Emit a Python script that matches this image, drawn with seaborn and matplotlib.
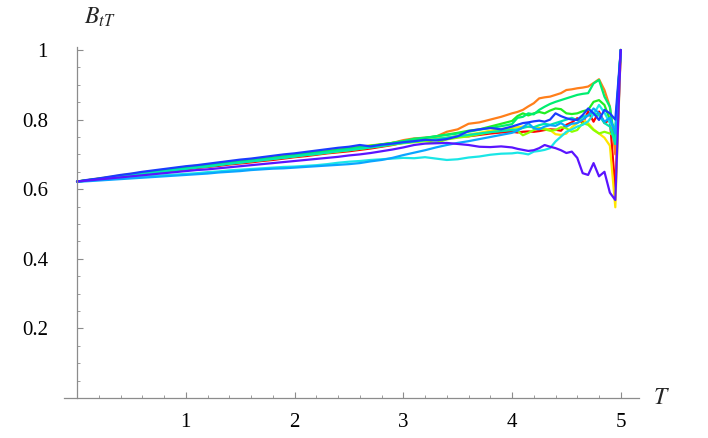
import numpy as np
import pandas as pd
import matplotlib
matplotlib.use("Agg")
import matplotlib.pyplot as plt
from matplotlib.ticker import MultipleLocator
import seaborn as sns

# ---- data -------------------------------------------------------------
T = [0.0, 0.1, 0.2, 0.3, 0.4, 0.5, 0.6, 0.7, 0.8, 0.9,
     1.0, 1.1, 1.2, 1.3, 1.4, 1.5, 1.6, 1.7, 1.8, 1.9,
     2.0, 2.1, 2.2, 2.3, 2.4, 2.5, 2.6, 2.7, 2.8, 2.9,
     3.0, 3.1, 3.2, 3.3, 3.4, 3.5, 3.6, 3.7, 3.8, 3.9,
     4.0, 4.05, 4.1, 4.15, 4.2, 4.25, 4.3, 4.35, 4.4, 4.45,
     4.5, 4.55, 4.6, 4.65, 4.7, 4.75, 4.8, 4.85, 4.9, 4.95, 5.0]

red = [0.622, 0.625, 0.628, 0.632, 0.636, 0.640, 0.643, 0.647, 0.651, 0.654,
       0.657, 0.661, 0.664, 0.667, 0.671, 0.674, 0.677, 0.681, 0.684, 0.688,
       0.692, 0.695, 0.699, 0.703, 0.706, 0.709, 0.713, 0.717, 0.722, 0.727,
       0.734, 0.737, 0.741, 0.745, 0.747, 0.752, 0.752, 0.756, 0.760, 0.763,
       0.765, 0.763, 0.765, 0.766, 0.765, 0.767, 0.770, 0.772, 0.771, 0.768,
       0.785, 0.792, 0.804, 0.790, 0.823, 0.794, 0.823, 0.790, 0.800, 0.600, 1.0]

orange = [0.622, 0.626, 0.630, 0.634, 0.638, 0.642, 0.646, 0.650, 0.654, 0.657,
          0.660, 0.664, 0.667, 0.671, 0.675, 0.678, 0.682, 0.685, 0.689, 0.692,
          0.696, 0.700, 0.703, 0.706, 0.710, 0.714, 0.718, 0.722, 0.727, 0.733,
          0.741, 0.746, 0.748, 0.751, 0.765, 0.772, 0.788, 0.792, 0.800, 0.808,
          0.818, 0.822, 0.828, 0.838, 0.847, 0.861, 0.864, 0.866, 0.871, 0.876,
          0.885, 0.887, 0.890, 0.892, 0.895, 0.905, 0.916, 0.885, 0.837, 0.700, 1.0]

yellow = [0.622, 0.626, 0.631, 0.635, 0.640, 0.644, 0.648, 0.652, 0.656, 0.660,
          0.664, 0.668, 0.671, 0.675, 0.679, 0.682, 0.686, 0.690, 0.693, 0.697,
          0.700, 0.704, 0.708, 0.711, 0.715, 0.719, 0.722, 0.726, 0.729, 0.733,
          0.737, 0.741, 0.743, 0.745, 0.748, 0.752, 0.757, 0.762, 0.768, 0.773,
          0.776, 0.778, 0.780, 0.779, 0.778, 0.776, 0.774, 0.770, 0.758, 0.756,
          0.760, 0.778, 0.790, 0.800, 0.790, 0.772, 0.760, 0.748, 0.725, 0.548, 1.0]

chartreuse = [0.622, 0.625, 0.629, 0.633, 0.637, 0.641, 0.645, 0.649, 0.652, 0.656,
              0.659, 0.663, 0.666, 0.670, 0.674, 0.677, 0.680, 0.684, 0.687, 0.691,
              0.694, 0.698, 0.701, 0.705, 0.708, 0.712, 0.716, 0.720, 0.724, 0.728,
              0.732, 0.735, 0.738, 0.733, 0.743, 0.748, 0.752, 0.758, 0.764, 0.768,
              0.772, 0.768, 0.755, 0.762, 0.770, 0.775, 0.772, 0.768, 0.770, 0.778,
              0.775, 0.765, 0.770, 0.790, 0.785, 0.770, 0.760, 0.765, 0.760, 0.755, 1.0]

green = [0.622, 0.626, 0.630, 0.634, 0.638, 0.642, 0.646, 0.650, 0.654, 0.658,
         0.661, 0.665, 0.669, 0.672, 0.676, 0.680, 0.683, 0.687, 0.690, 0.694,
         0.698, 0.702, 0.706, 0.709, 0.713, 0.717, 0.721, 0.725, 0.729, 0.733,
         0.738, 0.742, 0.747, 0.752, 0.757, 0.762, 0.768, 0.772, 0.780, 0.788,
         0.796, 0.810, 0.818, 0.812, 0.818, 0.822, 0.818, 0.826, 0.832, 0.830,
         0.818, 0.816, 0.818, 0.824, 0.828, 0.851, 0.856, 0.842, 0.800, 0.770, 1.0]

springgreen = [0.622, 0.626, 0.630, 0.634, 0.638, 0.642, 0.646, 0.650, 0.653, 0.657,
               0.660, 0.664, 0.668, 0.671, 0.675, 0.679, 0.682, 0.686, 0.689, 0.693,
               0.697, 0.701, 0.705, 0.708, 0.712, 0.716, 0.720, 0.724, 0.728, 0.733,
               0.738, 0.745, 0.748, 0.752, 0.756, 0.760, 0.765, 0.771, 0.776, 0.781,
               0.787, 0.805, 0.808, 0.818, 0.815, 0.828, 0.837, 0.845, 0.851, 0.856,
               0.861, 0.866, 0.871, 0.874, 0.876, 0.904, 0.914, 0.866, 0.837, 0.730, 1.0]

teal = [0.622, 0.625, 0.629, 0.632, 0.636, 0.640, 0.644, 0.647, 0.651, 0.655,
        0.658, 0.662, 0.665, 0.669, 0.673, 0.676, 0.680, 0.683, 0.687, 0.690,
        0.694, 0.698, 0.701, 0.705, 0.709, 0.712, 0.716, 0.720, 0.724, 0.729,
        0.733, 0.737, 0.741, 0.744, 0.748, 0.752, 0.756, 0.760, 0.764, 0.767,
        0.770, 0.772, 0.776, 0.780, 0.778, 0.784, 0.788, 0.785, 0.790, 0.795,
        0.800, 0.805, 0.798, 0.808, 0.812, 0.820, 0.812, 0.790, 0.780, 0.730, 1.0]

cyan = [0.622, 0.624, 0.627, 0.629, 0.632, 0.634, 0.636, 0.638, 0.640, 0.642,
        0.644, 0.646, 0.649, 0.651, 0.654, 0.656, 0.658, 0.660, 0.662, 0.664,
        0.665, 0.667, 0.669, 0.672, 0.676, 0.679, 0.681, 0.684, 0.686, 0.688,
        0.690, 0.689, 0.692, 0.688, 0.684, 0.686, 0.691, 0.694, 0.699, 0.702,
        0.703, 0.705, 0.703, 0.700, 0.708, 0.710, 0.713, 0.718, 0.737, 0.751,
        0.765, 0.772, 0.780, 0.785, 0.795, 0.815, 0.842, 0.820, 0.790, 0.770, 1.0]

skyblue = [0.622, 0.623, 0.625, 0.627, 0.629, 0.631, 0.633, 0.635, 0.637, 0.639,
           0.641, 0.643, 0.645, 0.648, 0.650, 0.652, 0.655, 0.657, 0.659, 0.660,
           0.662, 0.664, 0.666, 0.668, 0.670, 0.672, 0.675, 0.680, 0.684, 0.690,
           0.698, 0.705, 0.712, 0.720, 0.727, 0.733, 0.738, 0.744, 0.750, 0.756,
           0.762, 0.768, 0.778, 0.790, 0.775, 0.772, 0.780, 0.784, 0.782, 0.790,
           0.780, 0.788, 0.790, 0.800, 0.812, 0.832, 0.818, 0.794, 0.805, 0.760, 1.0]

blue = [0.622, 0.627, 0.631, 0.636, 0.641, 0.645, 0.650, 0.654, 0.658, 0.662,
        0.666, 0.669, 0.673, 0.677, 0.681, 0.685, 0.688, 0.692, 0.696, 0.700,
        0.703, 0.707, 0.711, 0.715, 0.719, 0.722, 0.727, 0.723, 0.728, 0.731,
        0.735, 0.738, 0.742, 0.740, 0.744, 0.752, 0.767, 0.772, 0.776, 0.772,
        0.780, 0.785, 0.790, 0.792, 0.795, 0.797, 0.794, 0.800, 0.818, 0.810,
        0.804, 0.800, 0.799, 0.813, 0.832, 0.818, 0.799, 0.828, 0.818, 0.800, 1.0]

purple = [0.622, 0.625, 0.628, 0.631, 0.634, 0.637, 0.640, 0.643, 0.646, 0.649,
          0.652, 0.655, 0.657, 0.660, 0.663, 0.666, 0.669, 0.672, 0.675, 0.678,
          0.681, 0.684, 0.687, 0.690, 0.693, 0.697, 0.700, 0.704, 0.709, 0.714,
          0.720, 0.727, 0.731, 0.732, 0.733, 0.730, 0.727, 0.722, 0.721, 0.723,
          0.720, 0.716, 0.713, 0.710, 0.712, 0.718, 0.727, 0.722, 0.718, 0.712,
          0.704, 0.708, 0.690, 0.646, 0.641, 0.675, 0.637, 0.650, 0.590, 0.569, 1.0]

series_names = ["red", "orange", "yellow", "chartreuse", "green", "springgreen",
                "teal", "cyan", "skyblue", "blue", "purple"]
series_values = [red, orange, yellow, chartreuse, green, springgreen,
                 teal, cyan, skyblue, blue, purple]
series_colors = ["#ff0000", "#ff7f1a", "#ffe600", "#8cff00", "#22ee22", "#00ee70",
                 "#00e6b0", "#1ae6e6", "#0aa5ff", "#1a3cff", "#5a14ff"]

x_ticks = [1, 2, 3, 4, 5]
y_ticks = [0.2, 0.4, 0.6, 0.8, 1.0]
y_tick_labels = ["0.2", "0.4", "0.6", "0.8", "1"]

# ---- build long table -------------------------------------------------
frames = []
for name, vals in zip(series_names, series_values):
    frames.append(pd.DataFrame({"T": T, "B": vals, "series": name}))
df = pd.concat(frames, ignore_index=True)

# ---- style ------------------------------------------------------------
sns.set_style("white")
plt.rcParams["font.family"] = ["Liberation Serif", "DejaVu Serif"]
plt.rcParams["mathtext.fontset"] = "stix"

W, H = 708, 438
fig = plt.figure(figsize=(W / 100, H / 100), dpi=100)
left_px, right_px, top_px, bottom_px = 64, 639, 47, 398
ax = fig.add_axes([left_px / W, (H - bottom_px) / H,
                   (right_px - left_px) / W, (bottom_px - top_px) / H])

sns.lineplot(data=df, x="T", y="B", hue="series", hue_order=series_names,
             palette=dict(zip(series_names, series_colors)),
             linewidth=1.6, legend=False, ax=ax, sort=False,
             estimator=None)

x0 = -0.12
x1 = (right_px - 77) / 108.75
ax.set_xlim(x0, x1)
ax.set_ylim(0, (bottom_px - top_px) / 348.0)

for s in ["top", "right"]:
    ax.spines[s].set_visible(False)
axis_col = "#8c8c8c"
ax.spines["left"].set_position(("data", 0))
ax.spines["left"].set_color(axis_col)
ax.spines["bottom"].set_color(axis_col)
ax.spines["left"].set_linewidth(0.9)
ax.spines["bottom"].set_linewidth(0.9)

ax.set_xticks(x_ticks)
ax.set_xticklabels([str(v) for v in x_ticks])
ax.set_yticks(y_ticks)
ax.set_yticklabels(y_tick_labels)
ax.xaxis.set_minor_locator(MultipleLocator(0.2))
ax.yaxis.set_minor_locator(MultipleLocator(0.05))
ax.tick_params(axis="both", which="both", bottom=True, left=True,
               top=False, right=False)
ax.tick_params(axis="both", which="major", direction="in", length=4.5,
               width=0.8, color=axis_col, labelsize=15, labelcolor="black")
ax.tick_params(axis="both", which="minor", direction="in", length=2.5,
               width=0.6, color=axis_col)
ax.tick_params(axis="x", which="major", pad=11)
ax.tick_params(axis="y", which="major", pad=21)
ax.set_xlabel("")
ax.set_ylabel("")
ax.grid(False)

fig.text(661 / W, (H - 398) / H, r"$T$", fontsize=17, ha="center", va="center")
fig.text(100 / W, (H - 17) / H, r"$B_{tT}$", fontsize=17, ha="center", va="center")

fig.savefig("out.png", dpi=100)
